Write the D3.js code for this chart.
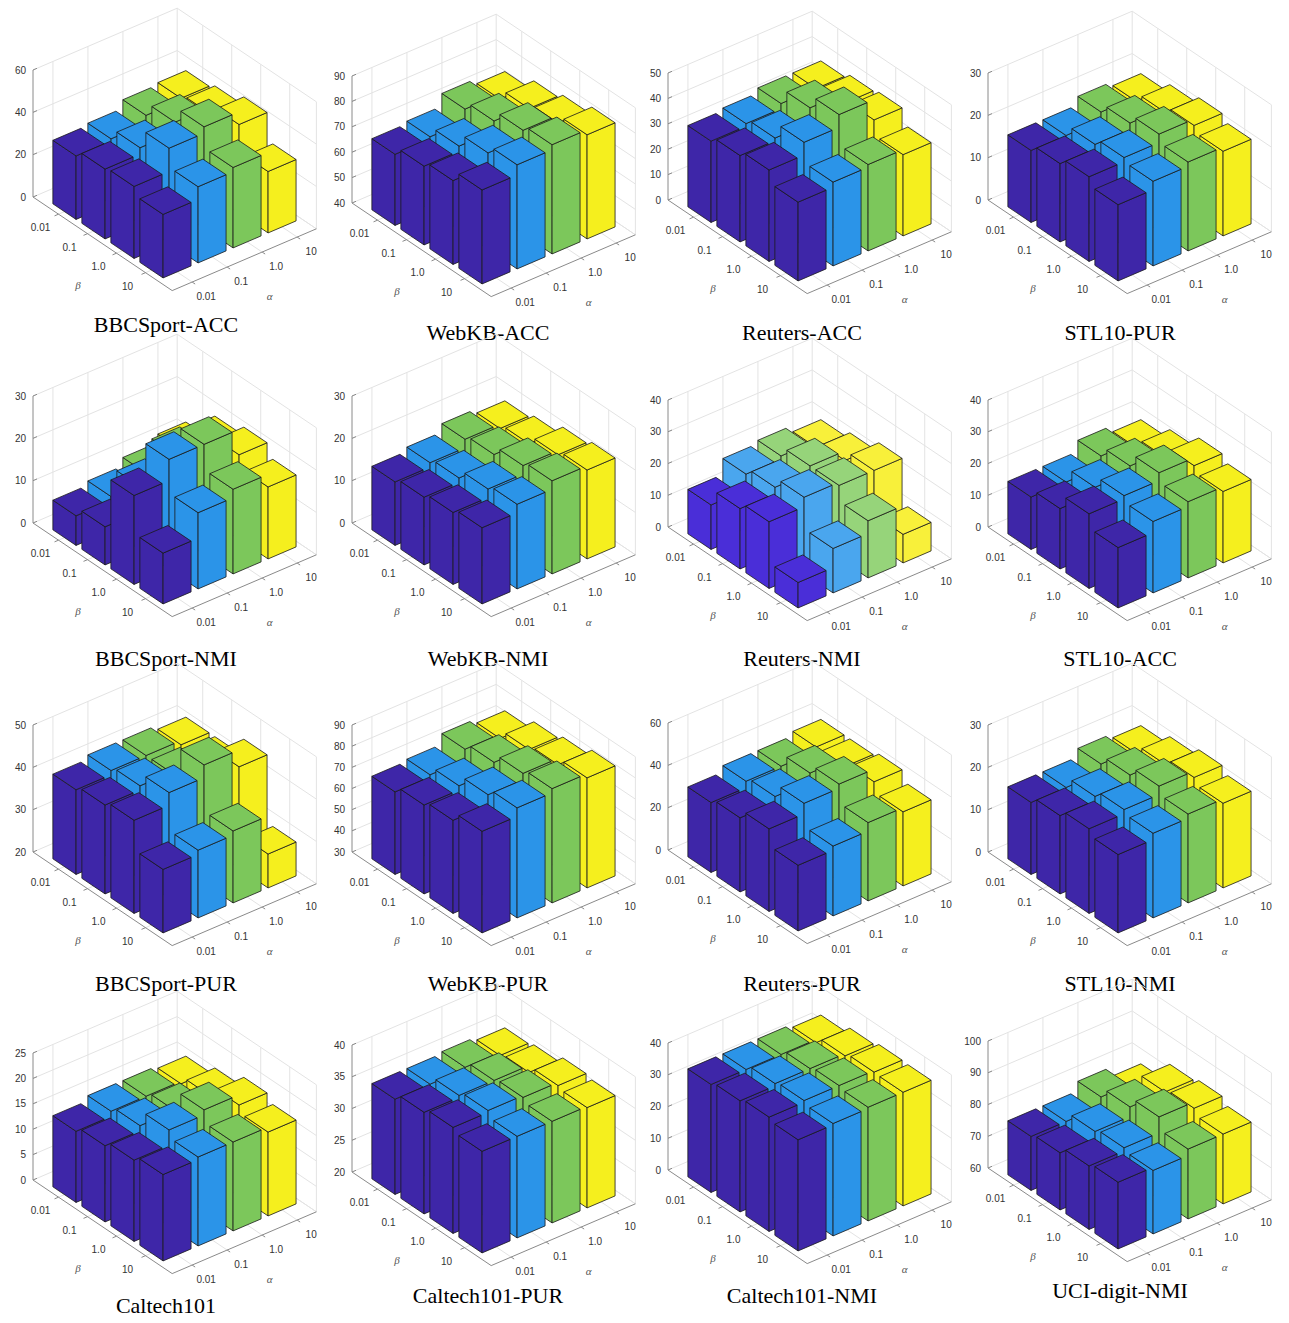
<!DOCTYPE html>
<html><head><meta charset="utf-8">
<script src="https://cdn.jsdelivr.net/npm/d3@7"></script>
<style>body{margin:0;background:#fff}</style></head>
<body><svg id="c" width="1289" height="1323"></svg>
<script>
const titles=["BBCSport-ACC","WebKB-ACC","Reuters-ACC","STL10-PUR","BBCSport-NMI","WebKB-NMI","Reuters-NMI","STL10-ACC","BBCSport-PUR","WebKB-PUR","Reuters-PUR","STL10-NMI","Caltech101","Caltech101-PUR","Caltech101-NMI","UCI-digit-NMI"];
const zTicks=[[0,20,40,60],[40,50,60,70,80,90],[0,10,20,30,40,50],[0,10,20,30],[0,10,20,30],[0,10,20,30],[0,10,20,30,40],[0,10,20,30,40],[20,30,40,50],[30,40,50,60,70,80,90],[0,20,40,60],[0,10,20,30],[0,5,10,15,20,25],[20,25,30,35,40],[0,10,20,30,40],[60,70,80,90,100]];
const alphaLabels=["0.01","0.1","1.0","10"];
const betaLabels=["0.01","0.1","1.0","10"];
// values[panel][alphaIndex][betaIndex]
const v1=[[30,33,34,30],[31,36,45,36],[35,41,48,38],[36,38,42,29]];
const v2=[[68,71,73,77],[69,73,78,81],[74,77,81,83],[72,76,78,81]];
const v3=[[32,34,36,31],[33,35,41,33],[35,41,46,34],[35,37,38,32]];
const v4=[[17,18.5,20,18],[17,19.5,21,20],[19,21,23,21],[18,20,21.5,20]];
const v5=[[7,9,21,12],[8,15,26,18],[10,19,26,20],[12,18,20,17]];
const v6=[[15,16,17,18],[16,17,19,20],[18,19,21,22],[17,18,20,21]];
const v7=[[14,19,21,8],[19,21,24,14],[20,23,23,18],[18,20,23,9]];
const v8=[[16.5,19,23.5,19],[16.5,21,24.5,22.5],[20,23,27,24],[18,21,24.5,22.5]];
const v9=[[40,41,42,35],[41,42,45,36],[41,41,48,37],[40,40,44,28]];
const v10=[[69,72,74,78],[70,74,79,82],[75,78,82,84],[73,77,79,82]];
const v11=[[33,35,39,31],[36,38,44,33],[36,42,46,37],[38,38,40,35]];
const v12=[[17,18.5,20,18.5],[17,19.5,21,20],[19,21,23,21],[18,20,21.5,20]];
const v13=[[14,15,16,17],[15,16,19,17.5],[15,16,20,17.5],[14.5,16,18,16.5]];
const v14=[[35,36,36.7,36],[35,36.3,37,36],[35.3,36.3,36.7,36],[34.8,35.2,36.2,35.8]];
const v15=[[34,35,36,35],[34,35.7,36.5,35.4],[34,35.7,36.5,35.8],[33,35,36,35.8]];
const v16=[[77,78,80,81],[77,80,81,80],[80,83,86,82],[77,83,84,82]];
const values=[v1,v2,v3,v4,v5,v6,v7,v8,v9,v10,v11,v12,v13,v14,v15,v16];
const colors=["#3e26a8","#2b94e8","#7cc75b","#f5ef1e"];
const colorsLight=["#4a2ed8","#4aa6ee","#96d47a","#f8f03a"];

const colX=[33,352,668,988];
const panelY=[197,203,200,200,523,523,527,527,852,852,850,852,1180,1172,1170,1168];
const titleY=[332,340,340,340,666,666,666,666,991,991,991,991,1313,1303,1303,1298];
const titleX=[166,488,802,1120];
const bMin=0.12,bMax=4.92,aMin=0.43,aMax=4.55;
const BX=29,BY=19.5,AX=35,AY=-15,ZH=127;
const svg=d3.select("#c");

values.forEach((vals,pi)=>{
  const r=Math.floor(pi/4),c=pi%4;
  const g=svg.append("g").attr("transform",`translate(${colX[c]},${panelY[pi]})`);
  const zt=zTicks[pi];
  const z=d3.scaleLinear().domain([zt[0],zt[zt.length-1]]).range([0,ZH]);
  const P=(b,a,h)=>[(b-bMin)*BX+(a-aMin)*AX,(b-bMin)*BY+(a-aMin)*AY-z(h)];
  const line=d3.line();
  const grid="#e3e3e3";
  const z0=zt[0],z1=zt[zt.length-1];
  zt.forEach(t=>{
    g.append("path").attr("d",line([P(bMin,aMin,t),P(bMin,aMax,t),P(bMax,aMax,t)])).attr("fill","none").attr("stroke",grid);
  });
  [1,2,3,4].forEach(i=>{
    g.append("path").attr("d",line([P(bMin,i,z0),P(bMin,i,z1)])).attr("stroke",grid);
    g.append("path").attr("d",line([P(i,aMax,z0),P(i,aMax,z1)])).attr("stroke",grid);
    g.append("path").attr("d",line([P(bMin,i,z0),P(bMax,i,z0)])).attr("stroke",grid);
    g.append("path").attr("d",line([P(i,aMin,z0),P(i,aMax,z0)])).attr("stroke",grid);
  });
  g.append("path").attr("d",line([P(bMin,aMax,z0),P(bMin,aMax,z1)])).attr("stroke",grid);
  g.append("path").attr("d",line([P(bMax,aMax,z0),P(bMax,aMax,z1)])).attr("stroke",grid);
  g.append("path").attr("d",line([P(bMin,aMax,z0),P(bMax,aMax,z0)])).attr("stroke",grid);
  const ax="#8a8a8a";
  g.append("path").attr("d",line([P(bMin,aMin,z1),P(bMin,aMin,z0),P(bMax,aMin,z0),P(bMax,aMax,z0)])).attr("fill","none").attr("stroke",ax);
  zt.forEach(t=>{
    const p=P(bMin,aMin,t);
    g.append("path").attr("d",line([p,[p[0]+4,p[1]-1.7]])).attr("stroke",ax);
    g.append("text").attr("x",p[0]-7).attr("y",p[1]+3.5).attr("text-anchor","end").attr("font-family","Liberation Sans, Arial").attr("font-size",10).attr("fill","#333").text(t);
  });
  betaLabels.forEach((t,i)=>{
    const p=P(i+1,aMin,z0);
    g.append("path").attr("d",line([p,[p[0]-4,p[1]+1.7]])).attr("stroke",ax);
    g.append("text").attr("x",p[0]-18).attr("y",p[1]+17).attr("text-anchor","middle").attr("font-family","Liberation Sans, Arial").attr("font-size",10).attr("fill","#333").text(t);
  });
  alphaLabels.forEach((t,i)=>{
    const p=P(bMax,i+1,z0);
    g.append("path").attr("d",line([p,[p[0]+3,p[1]+2]])).attr("stroke",ax);
    g.append("text").attr("x",p[0]+14).attr("y",p[1]+18).attr("text-anchor","middle").attr("font-family","Liberation Sans, Arial").attr("font-size",10).attr("fill","#333").text(t);
  });
  const pb=P(2.6,aMin,z0);
  g.append("text").attr("x",pb[0]-27).attr("y",pb[1]+44).attr("text-anchor","middle").attr("font-family","Liberation Serif, serif").attr("font-style","italic").attr("font-size",11).attr("fill","#555").text("β");
  const pa=P(bMax,2.5,z0);
  g.append("text").attr("x",pa[0]+25).attr("y",pa[1]+40).attr("text-anchor","middle").attr("font-family","Liberation Serif, serif").attr("font-style","italic").attr("font-size",11).attr("fill","#555").text("α");
  const cols=pi===6?colorsLight:colors;
  for(let a=3;a>=0;a--){
    for(let b=0;b<4;b++){
      const h=vals[a][b];
      const A=a+1,B=b+1;
      const b0=B-0.4,b1=B+0.4,a0=A-0.4,a1=A+0.4;
      const faces=[
        [P(b0,a0,z0),P(b1,a0,z0),P(b1,a0,h),P(b0,a0,h)],
        [P(b1,a0,z0),P(b1,a1,z0),P(b1,a1,h),P(b1,a0,h)],
        [P(b0,a0,h),P(b1,a0,h),P(b1,a1,h),P(b0,a1,h)]
      ];
      faces.forEach(f=>{
        g.append("path").attr("d",line(f)+"Z").attr("fill",cols[a]).attr("stroke","#1a1a1a").attr("stroke-width",0.8).attr("stroke-linejoin","round");
      });
    }
  }
  svg.append("text").attr("x",titleX[c]).attr("y",titleY[pi]).attr("text-anchor","middle").attr("font-family","Liberation Serif, Times New Roman, serif").attr("font-size",22).attr("fill","#000").text(titles[pi]);
});
</script></body></html>
